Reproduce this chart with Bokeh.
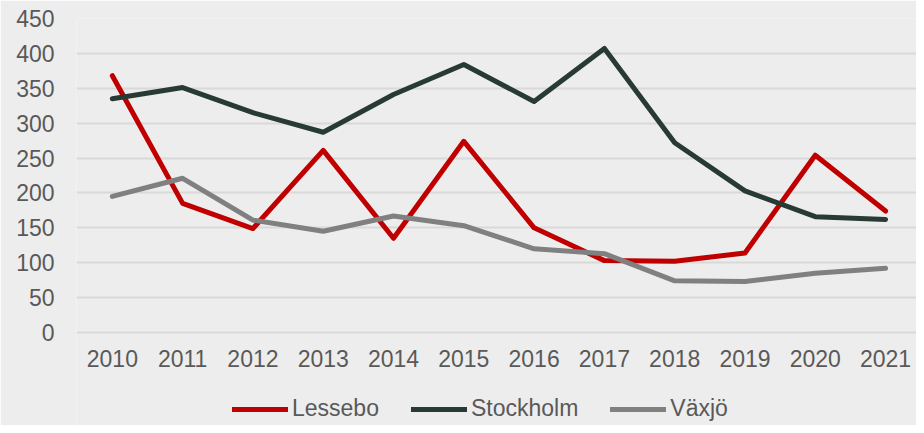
from bokeh.plotting import figure
from bokeh.models import Range1d, FixedTicker, Legend, LegendItem
from bokeh.embed import file_html
from bokeh.resources import INLINE

years = [2010, 2011, 2012, 2013, 2014, 2015, 2016, 2017, 2018, 2019, 2020, 2021]
lessebo = [368, 185, 149, 261, 135, 274, 150, 103, 102, 114, 254, 174]
stockholm = [335, 351, 315, 287, 341, 384, 331, 407, 272, 203, 166, 162]
vaxjo = [195, 221, 161, 145, 167, 153, 120, 113, 74, 73, 85, 92]
y_ticks = [0, 50, 100, 150, 200, 250, 300, 350, 400, 450]

series = [("Lessebo", lessebo, "#C00000"),
          ("Stockholm", stockholm, "#273A33"),
          ("Växjö", vaxjo, "#808080")]

BG = "#EDEDED"
TXT = "#595959"
FONT = "Liberation Sans"

# frame spans down to the figure bottom; y=0 sits 93px above it, the area
# below 0 holds the x-axis labels and the legend
p = figure(width=916, height=425, output_backend="svg", toolbar_location=None,
           x_range=Range1d(2009.49, 2021.44), y_range=Range1d(-133.3, 450),
           min_border_left=76, min_border_right=0, min_border_top=18, min_border_bottom=0)
p.background_fill_color = BG
p.border_fill_color = BG
p.outline_line_color = None

renderers = []
for name, vals, col in series:
    r = p.line(years, vals, line_color=col, line_width=5, line_join="round", line_cap="round")
    renderers.append((name, r))

p.xgrid.grid_line_color = None
p.ygrid.grid_line_color = "#D9D9D9"
p.ygrid.grid_line_width = 2
p.yaxis.ticker = FixedTicker(ticks=y_ticks)
p.xaxis.ticker = FixedTicker(ticks=years)
p.xaxis.fixed_location = 0

for ax in (p.xaxis[0], p.yaxis[0]):
    ax.axis_line_color = None
    ax.major_tick_line_color = None
    ax.minor_tick_line_color = None
    ax.major_tick_out = 0
    ax.major_tick_in = 0
    ax.major_label_text_font = FONT
    ax.major_label_text_font_size = "23px"
    ax.major_label_text_color = TXT
p.xaxis.major_label_standoff = 18
p.yaxis.major_label_standoff = 22

legend = Legend(items=[LegendItem(label=n, renderers=[r]) for n, r in renderers],
                orientation="horizontal", location=(156, 3),
                glyph_width=56, glyph_height=24, label_height=24,
                label_standoff=4, spacing=32, padding=0, margin=0,
                label_text_font=FONT, label_text_font_size="23px",
                label_text_color=TXT, background_fill_alpha=0,
                border_line_color=None)
p.add_layout(legend, "center")

open("out.html", "w").write(file_html(p, INLINE))
